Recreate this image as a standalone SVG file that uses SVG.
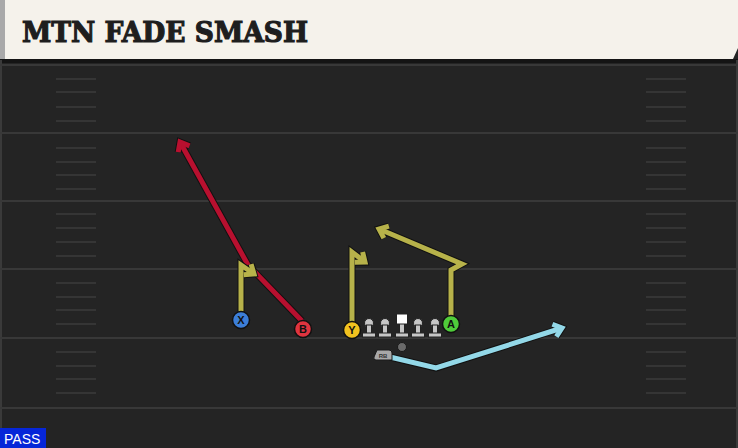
<svg xmlns="http://www.w3.org/2000/svg" width="738" height="448" viewBox="0 0 738 448">
<style>
.yl{stroke:#383838;stroke-width:2;fill:none}
.hash{stroke:#353535;stroke-width:2;fill:none}
.out{stroke:#111;stroke-width:7;fill:none;stroke-linejoin:miter}
.rt{stroke-width:5;fill:none;stroke-linejoin:miter}
.red{stroke:#b8102f}
.yel{stroke:#b7b24a}
.blu{stroke:#93d8e8}
.pl{stroke:#111;stroke-width:1.5}
.lbl{font-family:"Liberation Sans",Arial,sans-serif;font-weight:bold;font-size:11px;fill:#111;text-anchor:middle}
.ol{fill:#c6c6c6;stroke:#222;stroke-width:1}
</style>
<defs>
<marker id="aOut" markerUnits="userSpaceOnUse" orient="auto" overflow="visible" refX="0" refY="0" markerWidth="20" markerHeight="20"><path d="M-8,-6.5 L0,0 L-8,6.5" fill="none" stroke="#111" stroke-width="7"/></marker>
<marker id="aRed" markerUnits="userSpaceOnUse" orient="auto" overflow="visible" refX="0" refY="0" markerWidth="20" markerHeight="20"><path d="M-8,-6.5 L0,0 L-8,6.5" fill="none" stroke="#b8102f" stroke-width="5"/></marker>
<marker id="aYel" markerUnits="userSpaceOnUse" orient="auto" overflow="visible" refX="0" refY="0" markerWidth="20" markerHeight="20"><path d="M-8,-6.5 L0,0 L-8,6.5" fill="none" stroke="#b7b24a" stroke-width="5"/></marker>
<marker id="aBlu" markerUnits="userSpaceOnUse" orient="auto" overflow="visible" refX="0" refY="0" markerWidth="20" markerHeight="20"><path d="M-8,-6.5 L0,0 L-8,6.5" fill="none" stroke="#93d8e8" stroke-width="5"/></marker>
</defs>
<rect x="0" y="0" width="738" height="448" fill="#242424"/>
<rect x="0" y="59" width="738" height="4" fill="#141414"/>
<rect x="0" y="60" width="2" height="388" fill="#3a3a3a"/>
<rect x="736" y="60" width="2" height="388" fill="#3a3a3a"/>
<g id="yardlines">
<line class="yl" x1="0" y1="65" x2="738" y2="65"/>
<line class="yl" x1="0" y1="133" x2="738" y2="133"/>
<line class="yl" x1="0" y1="201" x2="738" y2="201"/>
<line class="yl" x1="0" y1="269" x2="738" y2="269"/>
<line class="yl" x1="0" y1="338" x2="738" y2="338"/>
<line class="yl" x1="0" y1="408" x2="738" y2="408"/>
</g>
<g id="hashes">
<path class="hash" d="M56,79H96M56,92H96M56,107H96M56,121H96M56,148H96M56,162H96M56,175H96M56,189H96M56,214H96M56,228H96M56,242H96M56,256H96M56,283H96M56,297H96M56,310H96M56,324H96M56,352H96M56,366H96M56,379H96M56,393H96"/>
<path class="hash" d="M646,79H686M646,92H686M646,107H686M646,121H686M646,148H686M646,162H686M646,175H686M646,189H686M646,214H686M646,228H686M646,242H686M646,256H686M646,283H686M646,297H686M646,310H686M646,324H686M646,352H686M646,366H686M646,379H686M646,393H686"/>
</g>
<g id="title">
<polygon points="0,0 738,0 738,48 733,59 0,59" fill="#f5f2eb"/>
<rect x="0" y="0" width="5" height="59" fill="#a9a9a9"/>
<text x="22" y="42" font-family="'DejaVu Serif','Liberation Serif',serif" font-weight="bold" font-size="28" fill="#1e1e1e" stroke="#1e1e1e" stroke-width="1.2" textLength="286" lengthAdjust="spacingAndGlyphs">MTN FADE SMASH</text>
</g>
<g id="connectors">
<path class="out" d="M302,321 L248,265 L180,142" marker-end="url(#aOut)"/>
<path class="rt red" d="M302,321 L248,265 L180,142" marker-end="url(#aRed)"/>
<path class="out" d="M241,311 L241,265 L254,274" marker-end="url(#aOut)"/>
<path class="rt yel" d="M241,311 L241,265 L254,274" marker-end="url(#aYel)"/>
<path class="out" d="M352,322 L352,252 L365,262" marker-end="url(#aOut)"/>
<path class="rt yel" d="M352,322 L352,252 L365,262" marker-end="url(#aYel)"/>
<path class="out" d="M451,316 L451,270 L462,264 L379,229" marker-end="url(#aOut)"/>
<path class="rt yel" d="M451,316 L451,270 L462,264 L379,229" marker-end="url(#aYel)"/>
<path class="out" d="M390,357 L436,368 L562,328" marker-end="url(#aOut)"/>
<path class="rt blu" d="M390,357 L436,368 L562,328" marker-end="url(#aBlu)"/>
</g>
<g id="OL">
<g transform="translate(369,0)"><circle class="ol" cx="0" cy="323" r="4.5"/><rect class="ol" x="-2.5" y="325" width="5" height="9"/><rect class="ol" x="-6.5" y="333" width="13" height="4"/></g>
<g transform="translate(385,0)"><circle class="ol" cx="0" cy="323" r="4.5"/><rect class="ol" x="-2.5" y="325" width="5" height="9"/><rect class="ol" x="-6.5" y="333" width="13" height="4"/></g>
<g transform="translate(418,0)"><circle class="ol" cx="0" cy="323" r="4.5"/><rect class="ol" x="-2.5" y="325" width="5" height="9"/><rect class="ol" x="-6.5" y="333" width="13" height="4"/></g>
<g transform="translate(435,0)"><circle class="ol" cx="0" cy="323" r="4.5"/><rect class="ol" x="-2.5" y="325" width="5" height="9"/><rect class="ol" x="-6.5" y="333" width="13" height="4"/></g>
<g id="C" transform="translate(402,0)"><rect class="ol" x="-2.5" y="322" width="5" height="12"/><rect class="ol" x="-6.5" y="333" width="13" height="4"/><rect x="-5.5" y="314" width="11" height="10" fill="#ffffff" stroke="#222" stroke-width="1"/></g>
</g>
<g id="ball"><circle cx="402" cy="347" r="4.5" fill="#6a6a6a" stroke="#1a1a1a" stroke-width="1"/></g>
<g id="RB">
<path d="M377,350 L389,350 Q392,350 392,353 L392,360 L376,360 Q373,360 374,357 Z" fill="#a8a8a8" stroke="#1a1a1a" stroke-width="1"/>
<text x="383" y="358" font-family="'Liberation Sans',Arial,sans-serif" font-weight="bold" font-size="6" fill="#333" text-anchor="middle">RB</text>
</g>
<g id="X"><circle class="pl" cx="241" cy="320" r="8.5" fill="#3c7ed8"/><text class="lbl" x="241" y="324">X</text></g>
<g id="B"><circle class="pl" cx="303" cy="329" r="8.5" fill="#e0343f"/><text class="lbl" x="303" y="333">B</text></g>
<g id="Y"><circle class="pl" cx="352" cy="330" r="8.5" fill="#f1c21f"/><text class="lbl" x="352" y="334">Y</text></g>
<g id="A"><circle class="pl" cx="451" cy="324" r="8.5" fill="#4fcc3a"/><text class="lbl" x="451" y="328">A</text></g>
<g id="pass">
<rect x="0" y="428" width="46" height="20" fill="#0626d8"/>
<text x="4" y="444" font-family="'Liberation Sans',Arial,sans-serif" font-size="14" fill="#ffffff">PASS</text>
</g>
</svg>
